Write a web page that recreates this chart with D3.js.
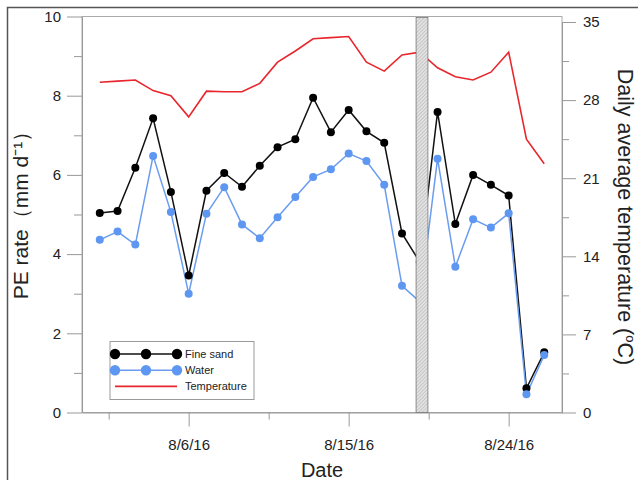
<!DOCTYPE html>
<html>
<head>
<meta charset="utf-8">
<script src="https://cdn.jsdelivr.net/npm/d3@7"></script>
<style>
  body { margin: 0; background: #fff; }
  text { font-family: "Liberation Sans", Arial, sans-serif; fill: #222; }
</style>
</head>
<body>
<div class="chart"></div>
<script>
var svgWidth = 638;
var svgHeight = 480;

// daily values, 8/1/16 - 8/26/16
var dates = ["2016-08-01", "2016-08-02", "2016-08-03", "2016-08-04", "2016-08-05", "2016-08-06",
    "2016-08-07", "2016-08-08", "2016-08-09", "2016-08-10", "2016-08-11", "2016-08-12", "2016-08-13",
    "2016-08-14", "2016-08-15", "2016-08-16", "2016-08-17", "2016-08-18", "2016-08-19", "2016-08-20",
    "2016-08-21", "2016-08-22", "2016-08-23", "2016-08-24", "2016-08-25", "2016-08-26"];
var fineSand = [5.04, 5.09, 6.18, 7.43, 5.57, 3.46, 5.60, 6.05, 5.70, 6.23, 6.70, 6.90, 7.95,
    7.08, 7.64, 7.10, 6.81, 4.52, 3.80, 7.59, 4.76, 6.00, 5.75, 5.48, 0.61, 1.52];
var water = [4.36, 4.57, 4.24, 6.48, 5.06, 3.00, 5.02, 5.69, 4.75, 4.40, 4.93, 5.44, 5.95,
    6.14, 6.54, 6.35, 5.75, 3.20, 2.80, 6.41, 3.68, 4.88, 4.67, 5.03, 0.46, 1.45];
var temperature = [29.6, 29.7, 29.8, 28.85, 28.4, 26.5, 28.8, 28.75, 28.75, 29.5, 31.4, 32.4, 33.5,
    33.6, 33.7, 31.4, 30.6, 32.05, 32.3, 30.9, 30.1, 29.8, 30.5, 32.3, 24.5, 22.3];

var xTicks = ["2016-08-01T12:00", "2016-08-06", "2016-08-10T12:00", "2016-08-15", "2016-08-19T12:00", "2016-08-24"];
var xLabels = ["", "8/6/16", "", "8/15/16", "", "8/24/16"];
var leftTicks = [0, 1, 2, 3, 4, 5, 6, 7, 8, 9, 10];
var rightTicks = [0, 3.5, 7, 10.5, 14, 17.5, 21, 24.5, 28, 31.5, 35];
var gapPeriod = ["2016-08-18T19:00", "2016-08-19T11:00"];

var parse = d3.isoParse;

var margin = { top: 16.5, right: 76, bottom: 67.5, left: 82 };
var width = svgWidth - margin.left - margin.right;
var height = svgHeight - margin.top - margin.bottom;

var svg = d3.select(".chart")
    .append("svg")
    .attr("width", svgWidth)
    .attr("height", svgHeight);

// outer frame of the figure
svg.append("rect")
    .attr("x", 7.5).attr("y", 7.5)
    .attr("width", 700).attr("height", 600)
    .attr("fill", "none")
    .attr("stroke", "#555")
    .attr("stroke-width", 1.5);

var defs = svg.append("defs");
var pat = defs.append("pattern")
    .attr("id", "hatch")
    .attr("width", 2.5).attr("height", 2.5)
    .attr("patternUnits", "userSpaceOnUse")
    .attr("patternTransform", "rotate(45)");
pat.append("rect").attr("width", 2.5).attr("height", 2.5).attr("fill", "#e2e2e2");
pat.append("line").attr("x1", 0).attr("y1", 0).attr("x2", 0).attr("y2", 2.5)
    .attr("stroke", "#a6a6a6").attr("stroke-width", 0.9);

var chartGroup = svg.append("g")
    .attr("transform", `translate(${margin.left}, ${margin.top})`);

var xTimeScale = d3.scaleTime()
    .domain([parse("2016-07-31"), parse("2016-08-27")])
    .range([0, width]);

var yLinearScale = d3.scaleLinear()
    .domain([0, 10])
    .range([height, 0]);

var yTempScale = d3.scaleLinear()
    .domain([0, 35])
    .range([height, 5.5]);

var rows = dates.map(function(d, i) {
    return { date: parse(d), sand: fineSand[i], water: water[i], temp: temperature[i] };
});

// plot frame
chartGroup.append("rect")
    .attr("width", width).attr("height", height)
    .attr("fill", "none")
    .attr("stroke", "#aaa");

// axes
var bottomAxis = d3.axisBottom(xTimeScale)
    .tickValues(xTicks.map(parse))
    .tickSize(0)
    .tickFormat(function(d, i) { return xLabels[i]; });
var gx = chartGroup.append("g")
    .attr("transform", `translate(0, ${height})`)
    .call(bottomAxis);
gx.selectAll(".tick line")
    .attr("y2", function(d, i) { return xLabels[i] ? 14 : 7; });
gx.selectAll(".tick text").attr("dy", 0).attr("y", 37).attr("font-size", 15);

var leftAxis = d3.axisLeft(yLinearScale)
    .tickValues(leftTicks)
    .tickSize(0)
    .tickFormat(function(d) { return d % 2 === 0 ? d : ""; });
var gy = chartGroup.append("g").call(leftAxis);
gy.selectAll(".tick line")
    .attr("x2", function(d) { return d % 2 === 0 ? -15 : -8; });
gy.selectAll(".tick text").attr("x", -21).attr("font-size", 15);

var rightAxis = d3.axisRight(yTempScale)
    .tickValues(rightTicks)
    .tickSize(0)
    .tickFormat(function(d) { return d % 7 === 0 ? d : ""; });
var gr = chartGroup.append("g")
    .attr("transform", `translate(${width}, 0)`)
    .call(rightAxis);
gr.selectAll(".tick line")
    .attr("x2", function(d) { return d % 7 === 0 ? 14 : 7; });
gr.selectAll(".tick text").attr("x", 21).attr("font-size", 15);

[gx, gy, gr].forEach(function(g) {
    g.select(".domain").attr("stroke", "#999");
    g.selectAll(".tick line").attr("stroke", "#999");
    g.selectAll(".tick text").attr("fill", "#222")
        .attr("font-family", "'Liberation Sans', Arial, sans-serif");
});

// lines
var sandLine = d3.line().x(d => xTimeScale(d.date)).y(d => yLinearScale(d.sand));
var waterLine = d3.line().x(d => xTimeScale(d.date)).y(d => yLinearScale(d.water));
var tempLine = d3.line().x(d => xTimeScale(d.date)).y(d => yTempScale(d.temp));

chartGroup.append("path").datum(rows)
    .attr("d", tempLine).attr("fill", "none")
    .attr("stroke", "#e8262c").attr("stroke-width", 1.6);

chartGroup.append("path").datum(rows)
    .attr("d", sandLine).attr("fill", "none")
    .attr("stroke", "#111").attr("stroke-width", 1.5);

chartGroup.append("path").datum(rows)
    .attr("d", waterLine).attr("fill", "none")
    .attr("stroke", "#6a9cf0").attr("stroke-width", 1.5);

chartGroup.selectAll(".sandDot")
    .data(rows)
    .enter()
    .append("circle")
    .attr("class", "sandDot")
    .attr("cx", d => xTimeScale(d.date))
    .attr("cy", d => yLinearScale(d.sand))
    .attr("r", 4)
    .attr("fill", "#000");

chartGroup.selectAll(".waterDot")
    .data(rows)
    .enter()
    .append("circle")
    .attr("class", "waterDot")
    .attr("cx", d => xTimeScale(d.date))
    .attr("cy", d => yLinearScale(d.water))
    .attr("r", 4)
    .attr("fill", "#5e97f2");

// hatched gap bar
chartGroup.append("rect")
    .attr("x", xTimeScale(parse(gapPeriod[0])))
    .attr("y", 1)
    .attr("width", xTimeScale(parse(gapPeriod[1])) - xTimeScale(parse(gapPeriod[0])))
    .attr("height", height - 1)
    .attr("fill", "url(#hatch)")
    .attr("stroke", "#777")
    .attr("stroke-width", 0.8);

// legend
var legend = chartGroup.append("g")
    .attr("transform", "translate(28, 325)");
legend.append("rect")
    .attr("width", 144).attr("height", 58)
    .attr("fill", "#fff")
    .attr("stroke", "#999");
var legendItems = [
    { label: "Fine sand", color: "#111", dot: "#000" },
    { label: "Water", color: "#6a9cf0", dot: "#5e97f2" },
    { label: "Temperature", color: "#e8262c", dot: null }
];
legendItems.forEach(function(item, i) {
    var y = 12.5 + i * 16.2;
    legend.append("line")
        .attr("x1", 5).attr("x2", 67)
        .attr("y1", y).attr("y2", y)
        .attr("stroke", item.color)
        .attr("stroke-width", 1.6);
    if (item.dot) {
        [5, 36, 67].forEach(function(cx) {
            legend.append("circle")
                .attr("cx", cx).attr("cy", y).attr("r", 5.2)
                .attr("fill", item.dot);
        });
    }
    legend.append("text")
        .attr("x", 75).attr("y", y)
        .attr("dy", "0.35em")
        .attr("font-size", 11)
        .text(item.label);
});

// axis titles
chartGroup.append("text")
    .attr("transform", `translate(${-54}, ${210 - margin.top}) rotate(-90)`)
    .attr("text-anchor", "middle")
    .attr("font-size", 21)
    .text("PE rate（mm d⁻¹）");

var rightTitle = chartGroup.append("text")
    .attr("transform", `translate(${width + 56}, ${217 - margin.top}) rotate(90)`)
    .attr("text-anchor", "middle")
    .attr("font-size", 21.5)
    .text("Daily average temperature (");
rightTitle.append("tspan").attr("font-size", 13).attr("dy", -8).text("o");
rightTitle.append("tspan").attr("dy", 8).text("C)");

chartGroup.append("text")
    .attr("x", 240)
    .attr("y", height + 64)
    .attr("text-anchor", "middle")
    .attr("font-size", 20)
    .text("Date");
</script>
</body>
</html>
